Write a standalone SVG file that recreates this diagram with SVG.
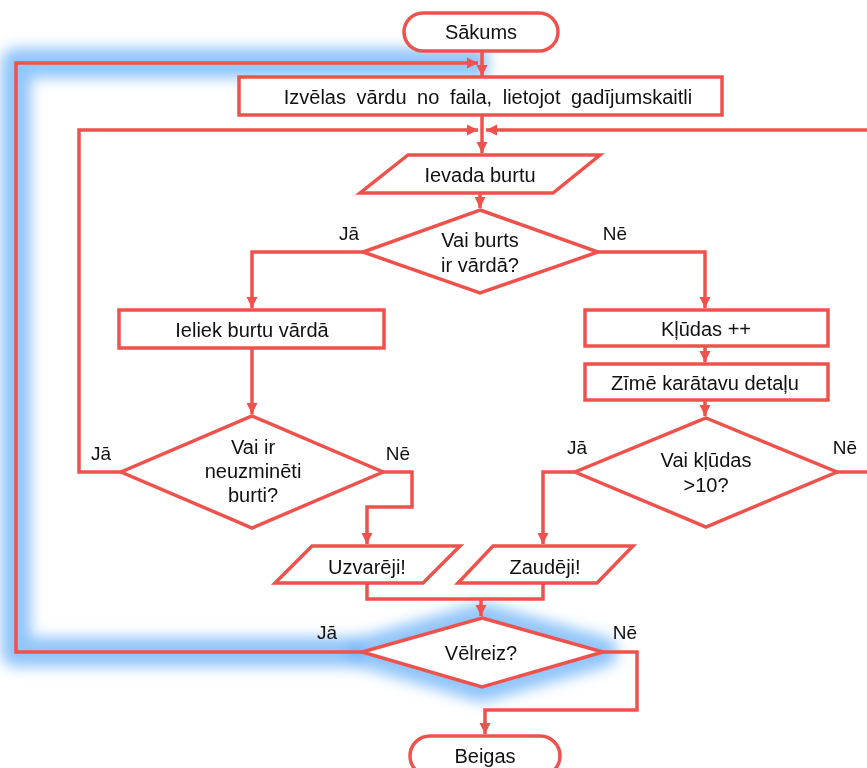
<svg xmlns="http://www.w3.org/2000/svg" width="867" height="768" viewBox="0 0 867 768">
<style>
.s{fill:#fff;stroke:#EF524C;stroke-width:3.5;stroke-linejoin:miter}
.c{fill:none;stroke:#EF524C;stroke-width:3.5}
.t{font-family:"Liberation Sans",Arial,sans-serif;font-size:20px;fill:#111;text-anchor:middle}
.l{font-family:"Liberation Sans",Arial,sans-serif;font-size:19px;fill:#111;text-anchor:middle}
.g{fill:none;stroke:#6DB1F8;stroke-width:30;stroke-linejoin:round;opacity:0.75}
</style>
<defs>
<marker id="a" markerUnits="userSpaceOnUse" markerWidth="12" markerHeight="12" refX="11" refY="6" orient="auto">
<path d="M0,0.5 L11,6 L0,11.5 Z" fill="#EF524C"/>
</marker>
<filter id="blur" x="-20%" y="-20%" width="140%" height="140%">
<feGaussianBlur stdDeviation="7"/>
</filter>
</defs>
<g id="glow" filter="url(#blur)">
<path class="g" d="M488,63 H16 V652 H362"/>
<path class="g" d="M482,618 L603,652 L482,687 L362,652 Z"/>
</g>
<g id="connectors">
<path class="c" d="M482,51 V76" marker-end="url(#a)"/>
<path class="c" d="M482,115 V153" marker-end="url(#a)"/>
<path class="c" d="M121,472 H79 V130 H478" marker-end="url(#a)"/>
<path class="c" d="M870,130 H486" marker-end="url(#a)"/>
<path class="c" d="M480,193 V208" marker-end="url(#a)"/>
<path class="c" d="M363,252 H252 V308" marker-end="url(#a)"/>
<path class="c" d="M598,252 H705 V308" marker-end="url(#a)"/>
<path class="c" d="M252,348 V414" marker-end="url(#a)"/>
<path class="c" d="M705,346 V362" marker-end="url(#a)"/>
<path class="c" d="M705,400 V416" marker-end="url(#a)"/>
<path class="c" d="M383,472 H412 V507 H367 V544" marker-end="url(#a)"/>
<path class="c" d="M575,472 H543 V544" marker-end="url(#a)"/>
<path class="c" d="M837,472 H870"/>
<path class="c" d="M367,583 V599 H543 V583"/>
<path class="c" d="M481,599 V616" marker-end="url(#a)"/>
<path class="c" d="M603,652 H637 V710 H485 V734" marker-end="url(#a)"/>
<path class="c" d="M362,652 H16 V63 H478" marker-end="url(#a)"/>
</g>
<g id="start">
<rect class="s" x="404" y="13" width="154" height="38" rx="19"/>
<text class="t" x="481" y="39">Sākums</text>
</g>
<g id="choose">
<rect class="s" x="239" y="77" width="483" height="38"/>
<text class="t" x="488" y="104" style="word-spacing:5px">Izvēlas vārdu no faila, lietojot gadījumskaitli</text>
</g>
<g id="input">
<polygon class="s" points="408,155 600,155 553,193 360,193"/>
<text class="t" x="480" y="182">Ievada burtu</text>
</g>
<g id="dec1">
<polygon class="s" points="480,210 598,252 480,293 363,252"/>
<text class="t" x="480" y="247">Vai burts</text>
<text class="t" x="480" y="272">ir vārdā?</text>
<text class="l" x="349" y="240">Jā</text>
<text class="l" x="615" y="240">Nē</text>
</g>
<g id="put">
<rect class="s" x="119" y="310" width="265" height="38"/>
<text class="t" x="252" y="337">Ieliek burtu vārdā</text>
</g>
<g id="errors">
<rect class="s" x="585" y="310" width="243" height="36"/>
<text class="t" x="706" y="336">Kļūdas ++</text>
</g>
<g id="draw">
<rect class="s" x="585" y="364" width="243" height="36"/>
<text class="t" x="705" y="390">Zīmē karātavu detaļu</text>
</g>
<g id="dec2">
<polygon class="s" points="252,416 383,472 252,528 121,472"/>
<text class="t" x="253" y="454">Vai ir</text>
<text class="t" x="253" y="478">neuzminēti</text>
<text class="t" x="253" y="502">burti?</text>
<text class="l" x="101" y="460">Jā</text>
<text class="l" x="398" y="460">Nē</text>
</g>
<g id="dec3">
<polygon class="s" points="706,418 837,472 706,527 575,472"/>
<text class="t" x="706" y="467">Vai kļūdas</text>
<text class="t" x="706" y="492">&gt;10?</text>
<text class="l" x="577" y="454">Jā</text>
<text class="l" x="845" y="454">Nē</text>
</g>
<g id="win">
<polygon class="s" points="312,546 460,546 423,583 275,583"/>
<text class="t" x="367" y="574">Uzvarēji!</text>
</g>
<g id="lose">
<polygon class="s" points="493,546 633,546 597,583 458,583"/>
<text class="t" x="545" y="574">Zaudēji!</text>
</g>
<g id="again">
<polygon class="s" points="482,618 603,652 482,687 362,652"/>
<text class="t" x="481" y="660">Vēlreiz?</text>
<text class="l" x="327" y="639">Jā</text>
<text class="l" x="625" y="639">Nē</text>
</g>
<g id="end">
<rect class="s" x="410" y="736" width="150" height="40" rx="20"/>
<text class="t" x="485" y="763">Beigas</text>
</g>
</svg>
